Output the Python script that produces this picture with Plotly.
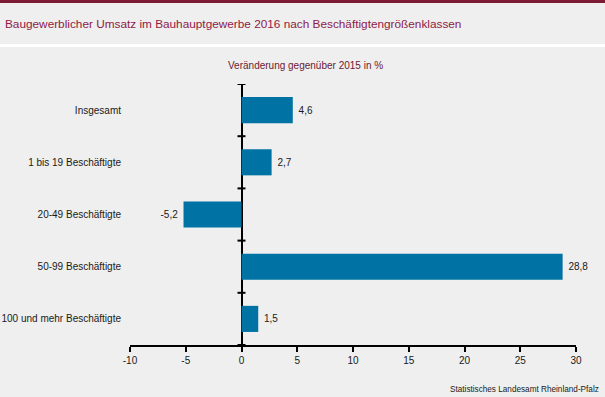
import plotly.graph_objects as go

categories = ["Insgesamt", "1 bis 19 Beschäftigte", "20-49 Beschäftigte",
              "50-99 Beschäftigte", "100 und mehr Beschäftigte"]
values = [4.6, 2.7, -5.2, 28.8, 1.5]
x_ticks = [-10, -5, 0, 5, 10, 15, 20, 25, 30]

title = "Baugewerblicher Umsatz im Bauhauptgewerbe 2016 nach Beschäftigtengrößenklassen"
subtitle = "Veränderung gegenüber 2015 in %"
source = "Statistisches Landesamt Rheinland-Pfalz"

W, H = 605, 397
ML, MR, MT, MB = 130, 29, 84, 52
PW, PH = W - ML - MR, H - MT - MB

def px(x):
    return (x - ML) / PW

def py(y):
    return (H - MB - y) / PH

BG = "#eeefee"
BAR = "#0072a3"
MAROON = "#8e1a47"
FONT = "Liberation Sans, Arial, sans-serif"

fig = go.Figure(go.Bar(
    y=categories, x=values, orientation="h",
    marker=dict(color=BAR, line=dict(width=0)),
    width=0.5,
    texttemplate="\u00a0%{x:.1f}\u00a0", textposition="outside",
    textfont=dict(size=10, color="#1a1a1a", family=FONT),
    cliponaxis=False,
))

shapes = [
    dict(type="rect", xref="paper", yref="paper", x0=px(0), x1=px(W), y0=py(3), y1=py(0),
         fillcolor="#7d1a35", line=dict(width=0), layer="below"),
    dict(type="rect", xref="paper", yref="paper", x0=px(0), x1=px(W), y0=py(47), y1=py(44),
         fillcolor="white", line=dict(width=0), layer="below"),
]
for i in range(len(categories) + 1):
    shapes.append(dict(type="line", xref="x", yref="y", xsizemode="pixel", xanchor=0,
                       x0=-4, x1=4, y0=i - 0.5, y1=i - 0.5,
                       line=dict(color="black", width=2)))

annotations = [
    dict(text=title, xref="paper", yref="paper", x=px(3), y=py(24), xanchor="left",
         yanchor="middle", showarrow=False, font=dict(size=11.8, color=MAROON, family=FONT)),
    dict(text=subtitle, xref="paper", yref="paper", x=px(305), y=py(65), xanchor="center",
         yanchor="middle", showarrow=False, font=dict(size=10, color="#6b1a33", family=FONT)),
    dict(text=source, xref="paper", yref="paper", x=px(601), y=py(389), xanchor="right",
         yanchor="middle", showarrow=False, font=dict(size=8.2, color="#1a1a1a", family=FONT)),
]

fig.update_layout(
    width=W, height=H,
    margin=dict(l=ML, r=MR, t=MT, b=MB, pad=0, autoexpand=False),
    paper_bgcolor=BG, plot_bgcolor=BG,
    separators=",.",
    showlegend=False,
    font=dict(family=FONT, size=10, color="#1a1a1a"),
    xaxis=dict(range=[-10, 30], tickvals=x_ticks, ticktext=[str(v) for v in x_ticks],
               showgrid=False, zeroline=True, zerolinecolor="black", zerolinewidth=1.5,
               showline=True, linecolor="black", linewidth=2,
               ticks="outside", ticklen=5, tickwidth=2, tickcolor="black",
               tickfont=dict(size=10, color="#1a1a1a"), fixedrange=True, automargin=False),
    yaxis=dict(range=[len(categories) - 0.5, -0.5], showgrid=False, zeroline=False,
               showline=False, ticks="", ticklabelstandoff=8,
               tickfont=dict(size=10, color="#1a1a1a"), fixedrange=True, automargin=False),
    shapes=shapes,
    annotations=annotations,
)

fig.write_html("out.html", config={"displayModeBar": False},
               post_script="document.body.style.margin='0';document.body.style.padding='0';")
